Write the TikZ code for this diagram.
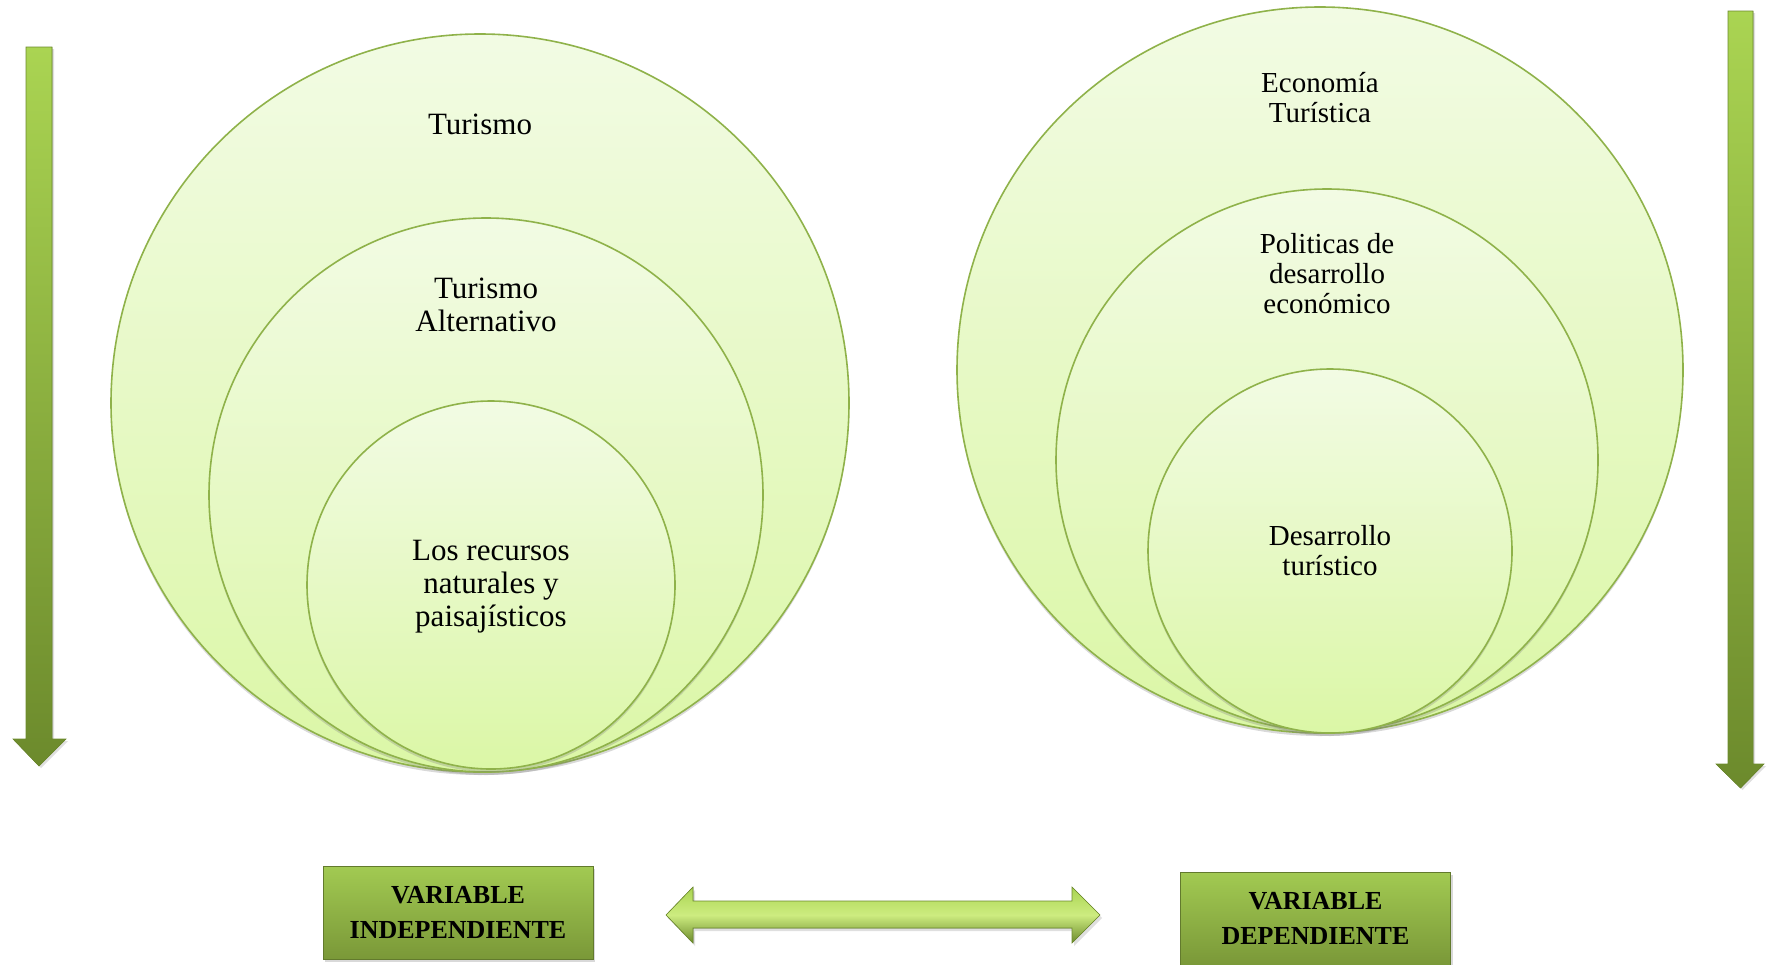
\documentclass[tikz,border=0pt]{standalone}
\usepackage{fontspec}
\setmainfont{Liberation Serif}
\usetikzlibrary{shadows}
\definecolor{ringline}{RGB}{143,178,74}
\definecolor{ringtop}{RGB}{242,251,228}
\definecolor{ringbot}{RGB}{219,247,166}
\definecolor{arrowtop}{RGB}{170,212,82}
\definecolor{arrowbot}{RGB}{108,138,44}
\definecolor{arrowmid}{RGB}{205,236,128}
\definecolor{boxtop}{RGB}{162,202,82}
\definecolor{boxbot}{RGB}{122,152,56}
\begin{document}
\begin{tikzpicture}[x=0.5pt,y=-0.5pt,
  ring/.style={circle,draw=ringline,line width=0.8pt,inner sep=0pt,
    top color=ringtop,bottom color=ringbot,
    drop shadow={shadow xshift=0pt,shadow yshift=-1.5pt,opacity=0.3}},
  bigtext/.style={align=center,font=\fontsize{15.5}{16.5}\selectfont},
  smalltext/.style={align=center,font=\fontsize{14.5}{15}\selectfont},
  varbox/.style={rectangle,draw=boxbot!80!black,line width=0.3pt,
    top color=boxtop,bottom color=boxbot,minimum width=135pt,minimum height=46.5pt,
    align=center,font=\fontsize{13}{17.5}\selectfont\bfseries,
    drop shadow={shadow xshift=1pt,shadow yshift=-1.5pt,opacity=0.3}},
  downarrow/.style={draw=arrowbot,line width=0.3pt,top color=arrowtop,bottom color=arrowbot,
    drop shadow={shadow xshift=1pt,shadow yshift=-1pt,opacity=0.25}}]
  \useasboundingbox (0,0) rectangle (1771,964);
  % left circles
  \node[ring,minimum size=369pt] (turOut) at (480,403) {};
  \node[ring,minimum size=277pt] (turMid) at (486,495) {};
  \node[ring,minimum size=184pt] (turIn) at (491,585) {};
  \node[bigtext] (turismo) at (480,124) {Turismo};
  \node[bigtext] (alternativo) at (486,305) {Turismo\\Alternativo};
  \node[bigtext] (recursos) at (491,587) {Los recursos\\naturales y\\paisajísticos};
  % right circles
  \node[ring,minimum size=363pt] (ecoOut) at (1320,370) {};
  \node[ring,minimum size=271pt] (ecoMid) at (1327,460) {};
  \node[ring,minimum size=182pt] (ecoIn) at (1330,551) {};
  \node[smalltext] (economia) at (1320,98) {Economía\\Turística};
  \node[smalltext] (politicas) at (1327,274) {Politicas de\\desarrollo\\económico};
  \node[smalltext] (desarrollo) at (1330,551) {Desarrollo\\turístico};
  % vertical arrows
  \fill[downarrow] (26,47) -- (52,47) -- (52,739) -- (66,739) -- (39,766) -- (13,739) -- (26,739) -- cycle;
  \fill[downarrow] (1728,11) -- (1753,11) -- (1753,764) -- (1764,764) -- (1740.5,788) -- (1716,764) -- (1728,764) -- cycle;
  % variables
  \node[varbox] (indep) at (458,912.5) {VARIABLE\\INDEPENDIENTE};
  \node[varbox] (dep) at (1315.5,918.5) {VARIABLE\\DEPENDIENTE};
  \fill[draw=arrowbot,line width=0.3pt,top color=arrowtop,bottom color=arrowbot,middle color=arrowmid,
    drop shadow={shadow xshift=1pt,shadow yshift=-1.5pt,opacity=0.25}]
    (666,915) -- (693,887) -- (693,901) -- (1072,901) -- (1072,887) -- (1100,915)
    -- (1072,943) -- (1072,928) -- (693,928) -- (693,943) -- cycle;
\end{tikzpicture}
\end{document}
